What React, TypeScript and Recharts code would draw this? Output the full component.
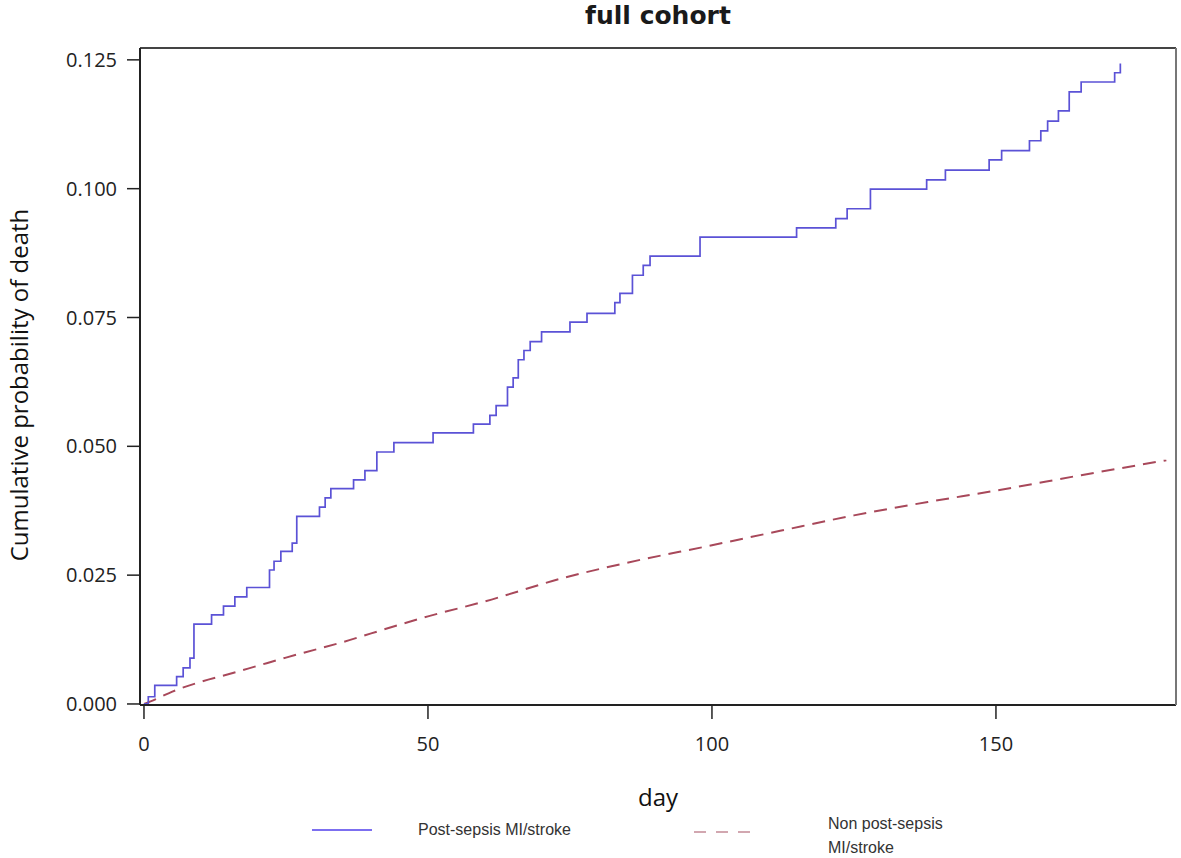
import React from 'react';
import { LineChart, Line, XAxis, YAxis } from 'recharts';

// Kaplan-Meier style cumulative probability
const POST_DAYS = [
  0, 0.76, 1.9, 5.75, 6.9, 8.1, 8.8, 11.9, 14.0, 16.0, 18.1, 22.1, 22.9, 24.1, 26.1, 26.9,
  30.9, 31.9, 32.9, 36.9, 38.9, 41.0, 44.0, 50.9, 58.0, 60.9, 62.0, 64.0, 65.0, 65.9, 66.9,
  68.0, 70.0, 75.0, 78.0, 82.9, 83.8, 86.0, 87.9, 89.1, 97.9, 114.9, 121.8, 123.8, 127.9,
  137.8, 141.1, 148.8, 151.0, 155.9, 157.9, 159.1, 161.0, 162.9, 165.0, 170.9, 171.9,
];
const POST_PROB = [
  0, 0.0014, 0.0036, 0.0053, 0.007, 0.0089, 0.0155, 0.0173, 0.019, 0.0208, 0.0226, 0.026,
  0.0277, 0.0296, 0.0312, 0.0364, 0.0382, 0.04, 0.0418, 0.0435, 0.0453, 0.0489, 0.0507,
  0.0526, 0.0543, 0.056, 0.0579, 0.0615, 0.0633, 0.0668, 0.0686, 0.0703, 0.0722, 0.0741,
  0.0758, 0.0779, 0.0797, 0.0832, 0.0851, 0.0869, 0.0906, 0.0924, 0.0942, 0.0961, 0.0999,
  0.1017, 0.1036, 0.1056, 0.1074, 0.1093, 0.1112, 0.1131, 0.1151, 0.1188, 0.1207, 0.1225,
  0.1243,
];

const NON_DAYS = [0, 2, 5, 10, 15, 20, 25, 30, 35, 40, 50, 60, 74, 85, 100, 112, 125, 138, 150, 165, 180];
const NON_PROB = [
  0, 0.0009, 0.0024, 0.0043, 0.0058, 0.0074, 0.009, 0.0105, 0.012, 0.0137, 0.017, 0.0199,
  0.0245, 0.0274, 0.0308, 0.0336, 0.0366, 0.0392, 0.0414, 0.0444, 0.0473,
];

const X_TICKS = [0, 50, 100, 150];
const Y_TICKS = [0, 0.025, 0.05, 0.075, 0.1, 0.125];
const X_DOMAIN: [number, number] = [-0.7, 181.7];
const Y_DOMAIN: [number, number] = [-0.0002, 0.1273];

const TITLE = 'full cohort';
const X_LABEL = 'day';
const Y_LABEL = 'Cumulative probability of death';
const LEGEND_POST = 'Post-sepsis MI/stroke';
const LEGEND_NON = ['Non post-sepsis', 'MI/stroke'];

const postData = POST_DAYS.map((day, i) => ({ day, prob: POST_PROB[i] }));
const nonData = NON_DAYS.map((day, i) => ({ day, prob: NON_PROB[i] }));

const tickStyle = { fill: '#222', fontSize: 20, fontFamily: '"Open Sans", sans-serif' };

export default function App() {
  return (
    <div
      style={{
        position: 'absolute',
        left: 0,
        top: 0,
        width: 1181,
        height: 858,
        background: '#fff',
        fontFamily: '"Open Sans", sans-serif',
        color: '#111',
      }}
    >
      <LineChart width={1181} height={858} margin={{ top: 47, right: 4, left: 0, bottom: 0 }}>
        <XAxis
          type="number"
          dataKey="day"
          domain={X_DOMAIN}
          ticks={X_TICKS}
          allowDataOverflow
          height={153}
          tickSize={14}
          tickMargin={18}
          tick={tickStyle}
          axisLine={{ stroke: '#222', strokeWidth: 2 }}
          tickLine={{ stroke: '#222', strokeWidth: 1.5 }}
        />
        <XAxis
          xAxisId="top"
          orientation="top"
          type="number"
          domain={X_DOMAIN}
          allowDataOverflow
          height={1}
          tick={false}
          tickLine={false}
          axisLine={{ stroke: '#444', strokeWidth: 2 }}
        />
        <YAxis
          type="number"
          domain={Y_DOMAIN}
          ticks={Y_TICKS}
          allowDataOverflow
          width={140}
          tickSize={13}
          tickMargin={10}
          tick={tickStyle}
          tickFormatter={(v: number) => v.toFixed(3)}
          axisLine={{ stroke: '#222', strokeWidth: 2 }}
          tickLine={{ stroke: '#222', strokeWidth: 1.5 }}
        />
        <YAxis
          yAxisId="right"
          orientation="right"
          type="number"
          domain={Y_DOMAIN}
          allowDataOverflow
          width={1}
          tick={false}
          tickLine={false}
          axisLine={{ stroke: '#777', strokeWidth: 2 }}
        />
        <Line
          data={nonData}
          dataKey="prob"
          type="monotone"
          stroke="#a8485a"
          strokeWidth={2}
          strokeDasharray="13 8"
          dot={false}
          isAnimationActive={false}
        />
        <Line
          data={postData}
          dataKey="prob"
          type="stepAfter"
          stroke="#5b52d6"
          strokeWidth={1.7}
          dot={false}
          isAnimationActive={false}
        />
      </LineChart>

      {/* title */}
      <div
        style={{
          position: 'absolute',
          left: 140,
          width: 1036,
          top: 1,
          textAlign: 'center',
          fontSize: 25,
          fontWeight: 700,
          fontFamily: '"DejaVu Sans", sans-serif',
          color: '#1a1a1a',
        }}
      >
        {TITLE}
      </div>

      {/* axis titles */}
      <div
        style={{
          position: 'absolute',
          left: 658 - 50,
          width: 100,
          top: 780,
          textAlign: 'center',
          fontSize: 24,
        }}
      >
        {X_LABEL}
      </div>
      <div
        style={{
          position: 'absolute',
          left: 19 - 250,
          top: 385 - 18,
          width: 500,
          height: 36,
          lineHeight: '36px',
          textAlign: 'center',
          fontSize: 24,
          transform: 'rotate(-90deg)',
          whiteSpace: 'nowrap',
        }}
      >
        {Y_LABEL}
      </div>

      {/* legend */}
      <div style={{ position: 'absolute', left: 312, top: 820, fontFamily: '"Liberation Sans", Arial, sans-serif', fontSize: 16, color: '#333' }}>
        <svg width={62} height={20} style={{ position: 'absolute', left: 0, top: 0 }}>
          <line x1={0} y1={10} x2={60} y2={10} stroke="#7c6ff0" strokeWidth={2} />
        </svg>
        <div style={{ position: 'absolute', left: 106, top: 0, whiteSpace: 'nowrap', lineHeight: '20px' }}>{LEGEND_POST}</div>
      </div>
      <div style={{ position: 'absolute', left: 694, top: 822, fontFamily: '"Liberation Sans", Arial, sans-serif', fontSize: 16, color: '#333' }}>
        <svg width={70} height={20} style={{ position: 'absolute', left: 0, top: 0 }}>
          <line x1={0} y1={10} x2={66} y2={10} stroke="#c48a96" strokeWidth={1.6} strokeDasharray="12 10" />
        </svg>
        <div style={{ position: 'absolute', left: 134, top: -10, whiteSpace: 'nowrap', lineHeight: '24px' }}>
          {LEGEND_NON[0]}
          <br />
          {LEGEND_NON[1]}
        </div>
      </div>
    </div>
  );
}
